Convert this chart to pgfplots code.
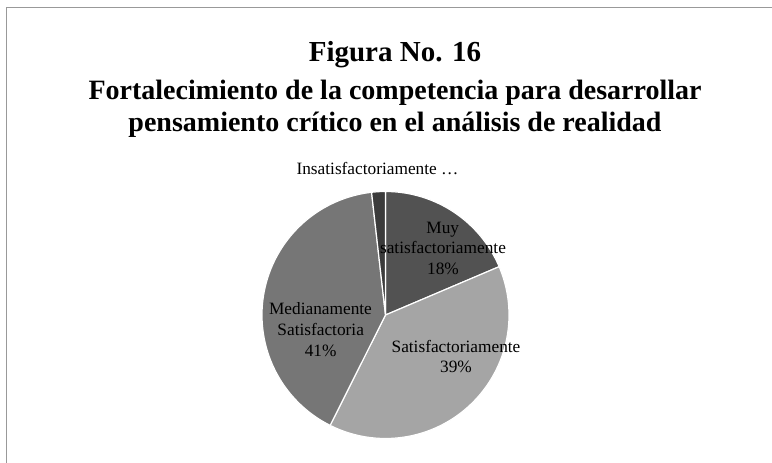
\documentclass[border=0pt]{standalone}
\usepackage{pgfplots}
\pgfplotsset{compat=1.18}
\usepackage{pgfplotstable}
\usepackage{fontspec}
\setmainfont{Liberation Serif}
\definecolor{cMuy}{HTML}{525252}
\definecolor{cSat}{HTML}{A5A5A5}
\definecolor{cMed}{HTML}{767676}
\definecolor{cIns}{HTML}{3B3B3B}
\definecolor{cFrame}{HTML}{999999}
\pgfplotstableread{
label value
Muy 18.6
Satisf 38.8
Medianamente 40.8
Insatisf 1.8
}\piedata
\begin{document}
\begin{tikzpicture}
\useasboundingbox (0,0) rectangle (772pt,463pt);
\draw[cFrame, line width=1pt] (6pt,0) -- (6pt,455pt) -- (772pt,455pt);
\node[anchor=base, font=\bfseries\fontsize{29}{34}\selectfont] at (395pt,401pt) {Figura No. 16};
\node[anchor=base, font=\bfseries\fontsize{28}{32}\selectfont] at (395pt,363pt) {Fortalecimiento de la competencia para desarrollar};
\node[anchor=base, font=\bfseries\fontsize{28}{32}\selectfont] at (395pt,331pt) {pensamiento crítico en el análisis de realidad};
\pgfplotstablegetelem{0}{value}\of\piedata \let\vA\pgfplotsretval
\pgfplotstablegetelem{1}{value}\of\piedata \let\vB\pgfplotsretval
\pgfplotstablegetelem{2}{value}\of\piedata \let\vC\pgfplotsretval
\pgfplotstablegetelem{3}{value}\of\piedata \let\vD\pgfplotsretval
\pgfmathsetmacro\aA{90}
\pgfmathsetmacro\aB{\aA-3.6*\vA}
\pgfmathsetmacro\aC{\aB-3.6*\vB}
\pgfmathsetmacro\aD{\aC-3.6*\vC}
\pgfmathsetmacro\aE{\aD-3.6*\vD}
\begin{axis}[at={(385.5pt,148pt)}, anchor=center, scale only axis,
  width=247pt, height=247pt, xmin=-123.5, xmax=123.5, ymin=-123.5, ymax=123.5,
  hide axis, clip=false]
\addplot[fill=cMuy, draw=white, line width=1.2pt, domain=\aB:\aA, samples=80, variable=\t] ({123.5*cos(\t)},{123.5*sin(\t)}) -- (axis cs:0,0) -- cycle;
\addplot[fill=cSat, draw=white, line width=1.2pt, domain=\aC:\aB, samples=120, variable=\t] ({123.5*cos(\t)},{123.5*sin(\t)}) -- (axis cs:0,0) -- cycle;
\addplot[fill=cMed, draw=white, line width=1.2pt, domain=\aD:\aC, samples=120, variable=\t] ({123.5*cos(\t)},{123.5*sin(\t)}) -- (axis cs:0,0) -- cycle;
\addplot[fill=cIns, draw=white, line width=1.2pt, domain=\aE:\aD, samples=10, variable=\t] ({123.5*cos(\t)},{123.5*sin(\t)}) -- (axis cs:0,0) -- cycle;
\begin{scope}[every node/.style={anchor=base, font=\fontsize{17.3}{20}\selectfont, inner sep=0pt}]
\node at (axis cs:57.3,81) {Muy};
\node at (axis cs:57.5,61.7) {satisfactoriamente};
\node at (axis cs:57.5,40) {18\%};
\node at (axis cs:70.5,-37.7) {Satisfactoriamente};
\node at (axis cs:70.5,-58) {39\%};
\node at (axis cs:-65,0) {Medianamente};
\node at (axis cs:-64.8,-20.7) {Satisfactoria};
\node at (axis cs:-64.8,-41.7) {41\%};
\node at (axis cs:-8,140) {Insatisfactoriamente …};
\end{scope}
\end{axis}
\end{tikzpicture}
\end{document}
